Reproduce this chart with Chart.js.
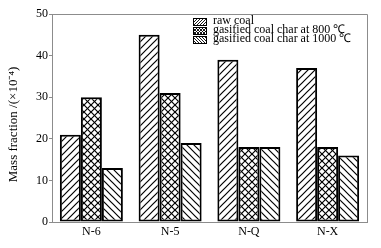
<!DOCTYPE html>
<html>
<head>
<meta charset="utf-8">
<script src="https://cdn.jsdelivr.net/npm/chart.js@4"></script>
<style>
  body { margin: 0; background: #fff; }
  #wrap { width: 381px; height: 248px; }
</style>
</head>
<body>
<div id="wrap"><canvas id="chart" width="381" height="248"></canvas></div>
<script>
const categories = ['N-6', 'N-5', 'N-Q', 'N-X'];
const seriesNames = ['raw coal', 'gasified coal char at 800 ℃', 'gasified coal char at 1000 ℃'];
const rawCoal = [21, 45, 39, 37];
const char800 = [30, 31, 18, 18];
const char1000 = [13, 19, 18, 16];
const yTicks = [0, 10, 20, 30, 40, 50];

const serif = '"Liberation Serif", "Times New Roman", serif';

// hatch patterns
function makePattern(kind, s, lw) {
    const c = document.createElement('canvas');
    c.width = s; c.height = s;
    const g = c.getContext('2d');
    g.fillStyle = '#fff';
    g.fillRect(0, 0, s, s);
    g.strokeStyle = '#000';
    g.lineWidth = lw;
    if (kind === 'fwd' || kind === 'cross') {
        g.beginPath();
        g.moveTo(-1, s + 1); g.lineTo(s + 1, -1);
        g.moveTo(-1, 1); g.lineTo(1, -1);
        g.moveTo(s - 1, s + 1); g.lineTo(s + 1, s - 1);
        g.stroke();
    }
    if (kind === 'back' || kind === 'cross') {
        g.beginPath();
        g.moveTo(-1, -1); g.lineTo(s + 1, s + 1);
        g.moveTo(s - 1, -1); g.lineTo(s + 1, 1);
        g.moveTo(-1, s - 1); g.lineTo(1, s + 1);
        g.stroke();
    }
    return g.createPattern(c, 'repeat');
}

const kinds = ['fwd', 'cross', 'back'];
const patterns = kinds.map(k => makePattern(k, 7, 1.2));
const smallPatterns = kinds.map(k => makePattern(k, 3, 0.9));

const frameAndLegend = {
    id: 'frameAndLegend',
    afterDraw(chart) {
        const ctx = chart.ctx;
        const a = chart.chartArea;
        ctx.save();
        ctx.strokeStyle = '#8c8c8c';
        ctx.lineWidth = 1;
        ctx.beginPath();
        ctx.moveTo(a.left, a.top + 0.5); ctx.lineTo(a.right + 0.5, a.top + 0.5);
        ctx.lineTo(a.right + 0.5, a.bottom);
        ctx.stroke();

        // legend
        ctx.font = '12px ' + serif;
        ctx.textBaseline = 'middle';
        const x0 = 193, y0 = 21.5, step = 9.3;
        chart.data.datasets.forEach((ds, i) => {
            const y = Math.round(y0 + i * step);
            ctx.fillStyle = smallPatterns[i];
            ctx.fillRect(x0, y - 3.5, 14, 7);
            ctx.strokeStyle = '#000';
            ctx.lineWidth = 1;
            ctx.strokeRect(x0 + 0.5, y - 3.5, 13, 7);
            ctx.fillStyle = '#000';
            ctx.fillText(ds.label, x0 + 20, y - 1);
        });
        ctx.restore();
    }
};

const datasets = [rawCoal, char800, char1000].map((vals, i) => ({
    label: seriesNames[i],
    data: vals,
    backgroundColor: patterns[i],
    borderColor: '#000',
    borderWidth: 2,
    borderSkipped: false,
    barPercentage: 1.0,
    categoryPercentage: 0.8
}));

new Chart(document.getElementById('chart').getContext('2d'), {
    type: 'bar',
    data: { labels: categories, datasets: datasets },
    options: {
        responsive: false,
        animation: false,
        layout: { padding: { top: 14, right: 14, left: 0, bottom: 0 } },
        scales: {
            x: {
                grid: { display: false, drawTicks: false },
                border: { color: '#8c8c8c', width: 1 },
                ticks: { color: '#000', font: { family: serif, size: 12 }, padding: 3 },
                afterFit(scale) { scale.height = 26; }
            },
            y: {
                min: 0,
                max: 50,
                afterBuildTicks(scale) { scale.ticks = yTicks.map(v => ({ value: v })); },
                grid: { drawOnChartArea: false, tickLength: 3, color: '#8c8c8c' },
                border: { color: '#8c8c8c', width: 1 },
                ticks: { color: '#000', font: { family: serif, size: 12 }, padding: 1 },
                title: {
                    display: true,
                    text: 'Mass fraction /(×10⁻⁴)    ',
                    color: '#000',
                    font: { family: serif, size: 13 },
                    padding: { top: 6, bottom: 0 }
                },
                afterFit(scale) { scale.width = 52; }
            }
        },
        plugins: {
            legend: { display: false },
            tooltip: { enabled: false }
        }
    },
    plugins: [frameAndLegend]
});
</script>
</body>
</html>
